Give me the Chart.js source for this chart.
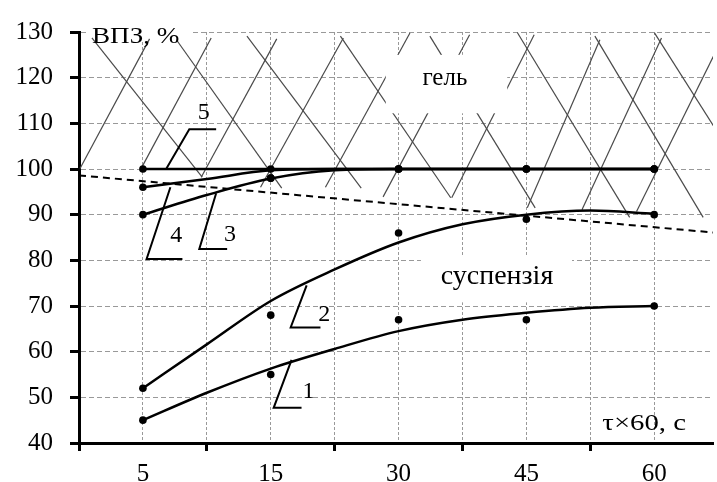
<!DOCTYPE html>
<html>
<head>
<meta charset="utf-8">
<style>
  body { margin: 0; background: #fff; }
  #chart { display: block; }
</style>
<script src="https://cdn.jsdelivr.net/npm/chart.js@4.4.0/dist/chart.umd.min.js"></script>
</head>
<body>
<canvas id="chart" width="717" height="482"></canvas>
<script>
// time categories (x60 s) and measured points for curves 1..5
const categories = ['5', '15', '30', '45', '60'];
const measured1 = [45, 55, 67, 67, 70];
const measured2 = [52, 68, 86, 89, 90];
const measured3 = [90, 98, 100, 100, 100];
const measured4 = [96, 98, 100, 100, 100];
const measured5 = [100, 100, 100, 100, 100];

const trendX = [0, 0.5, 1, 1.5, 2, 2.5, 3, 3.5, 4];
const trend1 = [45, 51.0, 56.3, 60.6, 64.5, 67.0, 68.5, 69.6, 70];
const trend2 = [52, 61.6, 71.1, 78.0, 83.9, 87.9, 90.0, 90.9, 90.2];
const trend3 = [90, 94.3, 97.9, 99.7, 100, 100, 100, 100, 100];
const trend4 = [96, 97.8, 99.7, 100, 100, 100, 100, 100, 100];
const trend5 = [100, 100, 100, 100, 100, 100, 100, 100, 100];

// dashed gel / suspension boundary
const boundaryX = [-0.5, 4.46];
const boundaryY = [98.6, 86.1];

// hatch strokes of the gel zone: x1, y1, x2, y2
const hatchSegments = [
  [-0.492, 100.1, 0.052, 128.5],
  [-0.399, 128.7, 0.464, 98.2],
  [-0.010, 100.3, 0.534, 128.7],
  [0.262, 128.3, 1.086, 95.8],
  [0.456, 98.2, 1.047, 128.5],
  [0.814, 129.1, 1.708, 95.8],
  [1.568, 128.7, 0.920, 96.0],
  [1.545, 129.1, 2.408, 93.7],
  [2.089, 129.8, 1.428, 96.0],
  [2.556, 129.4, 1.879, 93.9],
  [2.245, 129.1, 3.069, 91.5],
  [3.061, 129.4, 2.416, 93.7],
  [2.929, 129.9, 3.808, 89.4],
  [3.575, 128.3, 3.007, 91.5],
  [3.536, 129.1, 4.383, 89.4],
  [4.057, 128.7, 3.435, 91.1],
  [4.002, 129.8, 4.718, 98.2],
  [3.862, 90.7, 4.554, 129.8]
];

// callout leaders for the curve numbers
const leader1 = [[1.163, 58.2], [1.023, 47.7], [1.241, 47.7]];
const leader2 = [[1.281, 74.5], [1.156, 65.3], [1.389, 65.3]];
const leader3 = [[0.573, 94.7], [0.441, 82.5], [0.659, 82.5]];
const leader4 = [[0.215, 96.0], [0.029, 80.3], [0.309, 80.3]];
const leader5 = [[0.184, 100.1], [0.363, 108.7], [0.573, 108.7]];

// curve numbers (baseline positions)
const labelText = ['1', '2', '3', '4', '5'];
const labelX = [1.296, 1.419, 0.681, 0.260, 0.476];
const labelY = [49.8, 66.8, 84.2, 84.0, 110.9];

const zoneText = ['гель', 'суспензія'];
const zoneX = [2.362, 2.770];
const zoneY = [118.4, 74.8];

const SERIF = 'Liberation Serif';
const tickPos = categories.flatMap((c, i) => [i - 0.5, i]);
const pts = (xs, ys) => xs.map((v, i) => ({ x: v, y: ys[i] }));
const catIdx = categories.map((c, i) => i);

const datasets = [];
[measured1, measured2, measured3, measured4, measured5].forEach(m => {
  datasets.push({
    data: pts(catIdx, m), showLine: false, pointRadius: 3.8,
    pointBackgroundColor: '#000', pointBorderWidth: 0, order: 0
  });
});
[trend1, trend2, trend3, trend4, trend5].forEach(t => {
  datasets.push({
    data: pts(trendX, t), borderColor: '#000', borderWidth: 2.5, pointRadius: 0,
    cubicInterpolationMode: 'monotone', fill: false, order: 1
  });
});
[leader1, leader2, leader3, leader4, leader5].forEach(l => {
  datasets.push({
    data: l.map(p => ({ x: p[0], y: p[1] })), borderColor: '#000', borderWidth: 2,
    pointRadius: 0, tension: 0, fill: false, order: 1
  });
});
datasets.push({
  data: pts(boundaryX, boundaryY), borderColor: '#000', borderWidth: 2,
  borderDash: [7, 5], pointRadius: 0, fill: false, order: 2
});
hatchSegments.forEach(s => {
  datasets.push({
    data: [{ x: s[0], y: s[1] }, { x: s[2], y: s[3] }], borderColor: '#4a4a4a',
    borderWidth: 1.2, pointRadius: 0, fill: false, order: 3, hatch: true
  });
});

// text drawn on the baseline, optionally widened like the source picture
function text(ctx, s, px, py, size, align, sx) {
  ctx.save();
  ctx.translate(px, py);
  ctx.scale(sx || 1, 1);
  ctx.font = size + 'px "' + SERIF + '"';
  ctx.textAlign = align || 'center';
  ctx.textBaseline = 'alphabetic';
  ctx.fillStyle = '#000';
  ctx.fillText(s, 0, 0);
  ctx.restore();
}

const decor = {
  id: 'decor',
  beforeDatasetsDraw(chart) {
    const { ctx, chartArea: a, scales: { x, y } } = chart;
    chart.$gelBox = false;
    ctx.save();
    ctx.fillStyle = '#fff';
    // backing of axis title and suspension label over the grid
    ctx.fillRect(a.left + 9, a.top - 10, 104, 20);
    const sx1 = x.getPixelForValue(2.175), sx2 = x.getPixelForValue(3.357);
    const sy1 = y.getPixelForValue(81), sy2 = y.getPixelForValue(70.8);
    ctx.fillRect(sx1, sy1, sx2 - sx1, sy2 - sy1);
    ctx.restore();
  },
  beforeDatasetDraw(chart, args) {
    const ds = chart.data.datasets[args.index];
    if (ds.hatch || chart.$gelBox) return;
    chart.$gelBox = true;
    const { ctx, scales: { x, y } } = chart;
    const gx1 = x.getPixelForValue(1.9), gx2 = x.getPixelForValue(2.85);
    const gy1 = y.getPixelForValue(125), gy2 = y.getPixelForValue(112.2);
    ctx.save();
    ctx.fillStyle = '#fff';
    ctx.fillRect(gx1, gy1, gx2 - gx1, gy2 - gy1);
    ctx.restore();
  },
  afterDraw(chart) {
    const { ctx, chartArea: a, scales: { x, y } } = chart;
    labelText.forEach((t, i) => text(ctx, t, x.getPixelForValue(labelX[i]), y.getPixelForValue(labelY[i]), 24));
    text(ctx, zoneText[0], x.getPixelForValue(zoneX[0]), y.getPixelForValue(zoneY[0]), 25);
    text(ctx, zoneText[1], x.getPixelForValue(zoneX[1]), y.getPixelForValue(zoneY[1]), 28);
    text(ctx, 'ВПЗ, %', a.left + 13, a.top + 11, 23, 'left', 1.18);
    text(ctx, 'τ×60, с', a.right - 27, a.bottom - 13, 23, 'right', 1.25);
  }
};

const tickFont = { family: SERIF, size: 25 };
new Chart(document.getElementById('chart').getContext('2d'), {
  type: 'line',
  data: { datasets: datasets },
  options: {
    responsive: false,
    animation: false,
    layout: { padding: { top: 24, right: 0, bottom: 0, left: 0 } },
    plugins: { legend: { display: false }, tooltip: { enabled: false } },
    scales: {
      x: {
        type: 'linear', min: -0.5, max: 4.46,
        afterBuildTicks: s => { s.ticks = tickPos.map(v => ({ value: v })); },
        afterFit: s => { s.height = 39; },
        grid: {
          color: '#999', lineWidth: 1, tickLength: 8, tickWidth: 3,
          tickColor: c => (Number.isInteger(c.tick.value) ? 'rgba(0,0,0,0)' : '#000')
        },
        border: { color: '#000', width: 3, dash: [3, 2] },
        ticks: {
          autoSkip: false, maxRotation: 0, padding: 8, color: '#000', font: tickFont,
          callback: v => (Number.isInteger(v) ? categories[v] : '')
        }
      },
      y: {
        min: 40, max: 130,
        afterFit: s => { s.width = 79; },
        grid: { color: '#999', lineWidth: 1, tickLength: 9, tickWidth: 3, tickColor: '#000' },
        border: { color: '#000', width: 3, dash: [5, 3] },
        ticks: { stepSize: 10, padding: 17, color: '#000', font: tickFont }
      }
    }
  },
  plugins: [decor]
});
</script>
</body>
</html>
